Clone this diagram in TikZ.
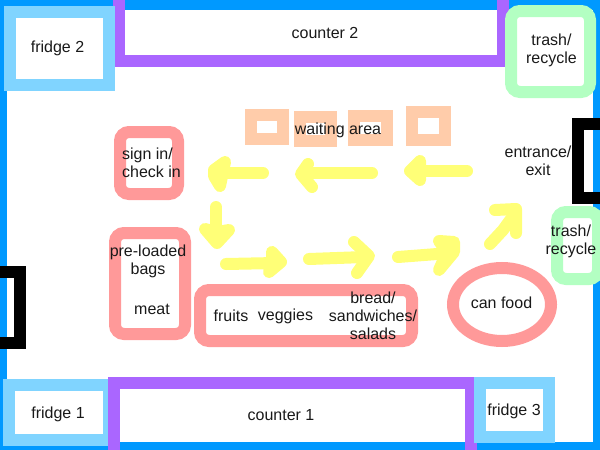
\documentclass[tikz,border=0pt]{standalone}
\usepackage{fontspec}
\setmainfont{Liberation Sans}
\definecolor{wallblue}{HTML}{0099FF}
\definecolor{fridgeblue}{HTML}{80D4FF}
\definecolor{counterpurple}{HTML}{AA66FF}
\definecolor{binGreen}{HTML}{B3FFC2}
\definecolor{foodred}{HTML}{FF9999}
\definecolor{waitpeach}{HTML}{FFCCAA}
\definecolor{walkyellow}{HTML}{FFFF77}
\tikzset{
  wall/.style = {draw = wallblue, line width = 14pt},
  fridge/.style = {draw = fridgeblue, line width = 12pt},
  counter/.style = {draw = counterpurple, line width = 12pt},
  bin/.style = {draw = binGreen, line width = 12pt, rounded corners = 9pt},
  food/.style = {draw = foodred, line width = 12pt, rounded corners = 9pt},
  seat/.style = {draw = waitpeach, line width = 12pt},
  door/.style = {draw = black, line width = 12pt},
  walk/.style = {draw = walkyellow, line width = 12pt, line cap = round, line join = round},
  walkhead/.style = {walk, fill = walkyellow},
  label/.style = {align = center, font = \fontsize{16}{18}\selectfont, inner sep = 0pt, text = black!90}
}
\begin{document}
\begin{tikzpicture}[x = 1pt, y = -1pt]
  \useasboundingbox (0,0) rectangle (600,450);
  \draw [wall] (0,3) rectangle (600,449);
  % room furniture
  \draw [counter] (119,-10) rectangle (503,61);
  \draw [fridge] (10,12) rectangle (109,85);
  \draw [bin] (511,11) rectangle (590,92);
  \draw [fridge] (9,385) rectangle (109,440);
  \draw [counter] (114,383) rectangle (471,460);
  \draw [fridge] (480,383) rectangle (549,437);
  \draw [door] (578,124) rectangle (612,198);
  \draw [door] (-12,272) rectangle (20,343);
  \draw [bin] (557,212) rectangle (598,279);
  % waiting seats
  \draw [seat] (251,115) rectangle (283,139);
  \draw [seat] (300,117) rectangle (331,141);
  \draw [seat] (354,116) rectangle (387,140);
  \draw [seat] (412,112) rectangle (445,140);
  % tables
  \draw [food] (120,132) rectangle (178,194);
  \draw [food] (115,233) rectangle (185,334);
  \draw [food] (200,290) rectangle (412,341);
  \draw [food] (502,304.5) ellipse [x radius = 49, y radius = 36.5];
  % way through the room
  \draw [walk] (467,171) -- (412,171);
  \draw [walkhead] (420,161) -- (410,171) -- (420,180) -- cycle;
  \draw [walk] (372,173) -- (303,173);
  \draw [walk] (308,164) -- (301,174) -- (312,187);
  \draw [walk] (263,173) -- (216,173);
  \draw [walkhead] (225,162) -- (214,170) -- (214,176) -- (220,186) -- cycle;
  \draw [walk] (216,207) -- (216,240);
  \draw [walkhead] (205,229) -- (217,243) -- (229,230) -- (217,232) -- cycle;
  \draw [walk] (226,264) -- (276,263);
  \draw [walkhead] (272,252) -- (281,262) -- (269,272) -- (272,262) -- cycle;
  \draw [walk] (309,259) -- (365,257);
  \draw [walk] (354,242) -- (369,256) -- (357,273);
  \draw [walk] (398,257) -- (450,253);
  \draw [walkhead] (439,241) -- (454,242) -- (454,252) -- (439,270) -- (447,252) -- cycle;
  \draw [walk] (490,244) -- (503,230) -- (516,212);
  \draw [walk] (495,210) -- (516,209) -- (516,233);
  % labels
  \node [label] (fridgeTwo) at (57.5,48) {fridge 2};
  \node [label] (counterTwo) at (325,33) {counter 2};
  \node [label] (trashTop) at (551.5,50) {trash/\\recycle};
  \node [label, align = left] (signIn) at (151.5,163) {sign in/\\check in};
  \node [label] (waiting) at (338,130.5) {waiting area};
  \node [label] (entrance) at (538,161) {entrance/\\exit};
  \node [label] (trashSide) at (571,241) {trash/\\recycle};
  \node [label] (bags) at (148,261) {pre-loaded\\bags};
  \node [label] (meat) at (152,309) {meat};
  \node [label] (fruits) at (231,316) {fruits};
  \node [label] (veggies) at (285.5,316) {veggies};
  \node [label] (bread) at (373,316) {bread/\\sandwiches/\\salads};
  \node [label] (canFood) at (501.5,303) {can food};
  \node [label] (fridgeOne) at (58,414) {fridge 1};
  \node [label] (counterOne) at (281,415) {counter 1};
  \node [label] (fridgeThree) at (514,411) {fridge 3};
\end{tikzpicture}
\end{document}
